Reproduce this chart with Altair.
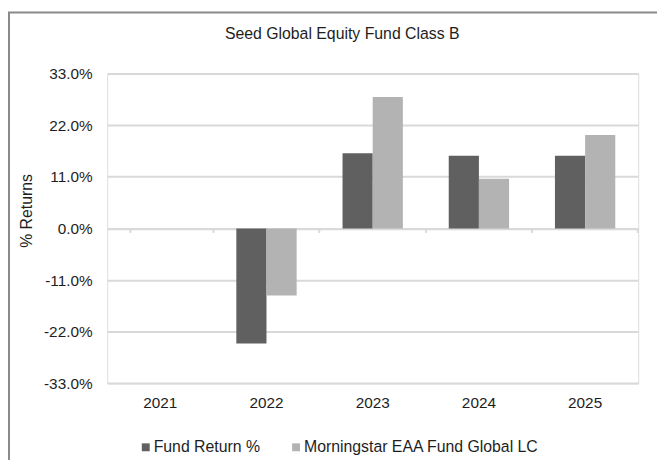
import altair as alt
import pandas as pd

years = ["2021", "2022", "2023", "2024", "2025"]
series_names = ["Fund Return %", "Morningstar EAA Fund Global LC"]
fund = [None, -24.5, 16.0, 15.5, 15.5]
morningstar = [None, -14.3, 28.0, 10.6, 19.9]
y_ticks = [-33, -22, -11, 0, 11, 22, 33]
colors = ["#606060", "#b3b3b3"]
title_text = "Seed Global Equity Fund Class B"

rows = []
for yr, f, m in zip(years, fund, morningstar):
    if f is not None:
        rows.append({"year": yr, "series": series_names[0], "value": f})
    if m is not None:
        rows.append({"year": yr, "series": series_names[1], "value": m})
df = pd.DataFrame(rows)

W, H = 537, 313.4
FONT = "Liberation Sans"
TXT = "#1e1e1e"
GRID = "#d9d9d9"

bars = alt.Chart(df).mark_bar().encode(
    x=alt.X(
        "year:N",
        scale=alt.Scale(domain=years, paddingInner=0.432, paddingOuter=0.216),
        axis=alt.Axis(
            title=None, orient="bottom", offset=-H / 2,
            domain=True, domainColor=GRID, domainWidth=2,
            ticks=True, bandPosition=1.38, tickExtra=True, tickSize=4,
            tickColor=GRID, tickWidth=2,
            labelPadding=165.5, labelFontSize=15.5, labelColor=TXT, labelFont=FONT,
            labelAngle=0, grid=False,
        ),
    ),
    xOffset=alt.XOffset("series:N", scale=alt.Scale(domain=series_names)),
    y=alt.Y(
        "value:Q",
        scale=alt.Scale(domain=[-33, 33], nice=False, zero=False),
        axis=alt.Axis(
            values=y_ticks,
            labelExpr="(datum.value < 0 ? '-' : '') + format(abs(datum.value), '.1f') + '%'",
            title="% Returns", titleFontSize=16, titleFontWeight="normal", titleColor=TXT,
            titleFont=FONT, titleX=-76.5, titleY=138.5, titleAngle=270,
            titleAlign="center", titleBaseline="alphabetic",
            domain=False, ticks=False, labelPadding=15.3, labelFontSize=15.5,
            labelColor=TXT, labelFont=FONT,
            grid=True, gridColor=GRID, gridWidth=2,
        ),
    ),
    color=alt.Color(
        "series:N",
        scale=alt.Scale(domain=series_names, range=colors),
        legend=alt.Legend(
            title=None, orient="none", legendX=31, legendY=370, direction="horizontal",
            symbolType="square", symbolSize=64, symbolStrokeWidth=0,
            labelFontSize=16, labelFont=FONT, labelColor=TXT, labelOffset=0,
            labelLimit=500, columnPadding=28, padding=0,
        ),
    ),
)

frame = alt.Chart(pd.DataFrame({"k": [0]})).mark_rect(
    fill=None, stroke="#8a8a8a", strokeWidth=2
).encode(
    x=alt.value(-99.3), x2=alt.value(700), y=alt.value(-61.7), y2=alt.value(500)
)

title = alt.Chart(pd.DataFrame({"k": [0]})).mark_text(
    font=FONT, fontSize=16, color=TXT, align="center", baseline="alphabetic"
).encode(
    x=alt.value(237.7), y=alt.value(-34.5), text=alt.value(title_text)
)

chart = alt.layer(frame, bars, title).properties(
    width=W, height=H,
    autosize=alt.AutoSizeParams(type="none"),
    padding={"left": 100.3, "top": 63.7, "right": 19, "bottom": 75},
    background="white",
).configure_view(stroke=None).configure(font=FONT).configure_axis(
    gridColor=GRID, domainColor=GRID, tickColor=GRID
)

chart.save("out.html", embed_options={"renderer": "svg", "actions": False})
